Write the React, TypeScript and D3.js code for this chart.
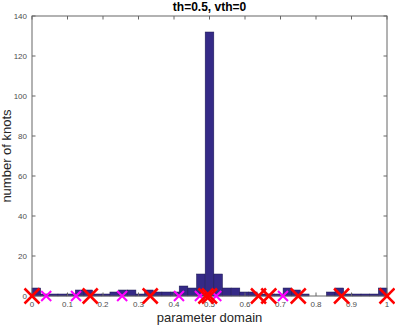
import * as d3 from 'd3';
import React, { useEffect, useRef } from 'react';

// histogram counts, 41 equal bins over [0, 1]
const binCounts = [4, 1, 1, 1, 1, 3, 3, 1, 1, 2, 3, 3, 1, 3, 2, 2, 2, 5, 4, 11, 132, 11, 4, 4, 2, 2, 1, 1, 1, 4, 3, 1, 0, 0, 2, 4, 1, 1, 1, 1, 4];
const redKnots = [0, 0.164, 0.333, 0.49, 0.5, 0.638, 0.667, 0.75, 0.872, 1.0];
const magentaKnots = [0.04, 0.124, 0.254, 0.414, 0.473, 0.519, 0.707];
const xTicks = [0, 0.1, 0.2, 0.3, 0.4, 0.5, 0.6, 0.7, 0.8, 0.9, 1];
const yTicks = [0, 20, 40, 60, 80, 100, 120, 140];

const W = 395;
const H = 327;
const margin = { top: 16, right: 8, bottom: 31, left: 32 };

const App = () => {
    const ref = useRef<SVGSVGElement>(null);

    useEffect(() => {
        const svg = d3.select(ref.current);
        svg.selectAll('*').remove();

        const innerW = W - margin.left - margin.right;
        const innerH = H - margin.top - margin.bottom;
        const x = d3.scaleLinear().domain([0, 1]).range([margin.left, margin.left + innerW]);
        const y = d3.scaleLinear().domain([0, 140]).range([margin.top + innerH, margin.top]);
        const font = 'Liberation Sans, Arial, Helvetica, sans-serif';
        const axisColor = '#666';
        const nBins = binCounts.length;
        const bw = 1 / nBins;

        // bars
        svg.append('g')
            .selectAll('rect')
            .data(binCounts)
            .enter().append('rect')
            .attr('x', (d, i) => x(i * bw))
            .attr('width', (d, i) => x((i + 1) * bw) - x(i * bw))
            .attr('y', d => y(d))
            .attr('height', d => y(0) - y(d))
            .attr('fill', '#352a87')
            .attr('stroke', '#1c1850')
            .attr('stroke-width', 0.5);

        // axes (box with inward ticks)
        const tickLen = 3.5;
        const g = svg.append('g').attr('stroke', axisColor).attr('stroke-width', 1).attr('fill', 'none');
        g.append('rect')
            .attr('x', x(0)).attr('y', y(140))
            .attr('width', x(1) - x(0)).attr('height', y(0) - y(140));
        xTicks.forEach(t => {
            g.append('line').attr('x1', x(t)).attr('x2', x(t)).attr('y1', y(0)).attr('y2', y(0) - tickLen);
            g.append('line').attr('x1', x(t)).attr('x2', x(t)).attr('y1', y(140)).attr('y2', y(140) + tickLen);
        });
        yTicks.forEach(t => {
            g.append('line').attr('x1', x(0)).attr('x2', x(0) + tickLen).attr('y1', y(t)).attr('y2', y(t));
            g.append('line').attr('x1', x(1)).attr('x2', x(1) - tickLen).attr('y1', y(t)).attr('y2', y(t));
        });

        svg.append('g')
            .selectAll('text')
            .data(xTicks)
            .enter().append('text')
            .attr('x', d => x(d))
            .attr('y', y(0) + 11)
            .attr('text-anchor', 'middle')
            .attr('font-family', font)
            .attr('font-size', 8)
            .attr('fill', '#4d4d4d')
            .text(d => d3.format('~g')(d));

        svg.append('g')
            .selectAll('text')
            .data(yTicks)
            .enter().append('text')
            .attr('x', x(0) - 5)
            .attr('y', d => y(d))
            .attr('dy', '0.35em')
            .attr('text-anchor', 'end')
            .attr('font-family', font)
            .attr('font-size', 8)
            .attr('fill', '#4d4d4d')
            .text(d => d);

        // knot markers
        const cross = (cx: number, cy: number, r: number, color: string, sw: number) => {
            const c = svg.append('g').attr('stroke', color).attr('stroke-width', sw);
            c.append('line').attr('x1', cx - r).attr('y1', cy - r).attr('x2', cx + r).attr('y2', cy + r);
            c.append('line').attr('x1', cx - r).attr('y1', cy + r).attr('x2', cx + r).attr('y2', cy - r);
        };
        magentaKnots.forEach(k => cross(x(k), y(0), 5, '#ff00ff', 2));
        redKnots.forEach(k => cross(x(k), y(0), 7.5, '#ff0000', 2.5));

        // labels
        svg.append('text')
            .attr('x', (x(0) + x(1)) / 2)
            .attr('y', 11)
            .attr('text-anchor', 'middle')
            .attr('font-family', font)
            .attr('font-weight', 'bold')
            .attr('font-size', 12)
            .attr('fill', '#000')
            .text('th=0.5, vth=0');

        svg.append('text')
            .attr('x', (x(0) + x(1)) / 2)
            .attr('y', 322)
            .attr('text-anchor', 'middle')
            .attr('font-family', font)
            .attr('font-size', 13)
            .attr('fill', '#262626')
            .text('parameter domain');

        svg.append('text')
            .attr('transform', `translate(11,${(y(0) + y(140)) / 2}) rotate(-90)`)
            .attr('text-anchor', 'middle')
            .attr('font-family', font)
            .attr('font-size', 13)
            .attr('fill', '#262626')
            .text('number of knots');
    }, []);

    return (
        <svg ref={ref} width={W} height={H}
            style={{ position: 'absolute', left: 0, top: 0, background: '#fff' }} />
    );
};

export default App;
